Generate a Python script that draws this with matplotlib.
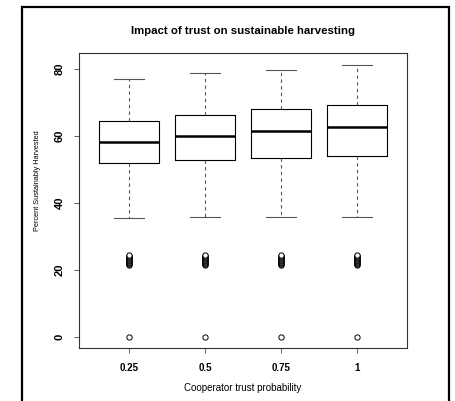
import matplotlib
matplotlib.use("Agg")
import matplotlib.pyplot as plt
from matplotlib.patches import Rectangle

# values
trust_labels = ["0.25", "0.5", "0.75", "1"]
whisker_low = [35.5, 35.8, 35.8, 35.8]
q1 = [52.0, 52.7, 53.3, 54.0]
medians = [58.2, 60.0, 61.4, 62.6]
q3 = [64.4, 66.2, 68.0, 69.3]
whisker_high = [77.1, 78.8, 79.6, 81.1]
outliers = [0.0, 21.5, 21.7, 21.9, 22.1, 22.3, 22.5, 22.7, 22.9, 23.1,
            23.3, 23.5, 23.7, 23.9, 24.1, 24.3, 24.5]
y_ticks = [0, 20, 40, 60, 80]

plt.rcParams["font.family"] = ["Liberation Sans", "DejaVu Sans"]

fig = plt.figure(figsize=(4.56, 4.01), dpi=100)
ax = fig.add_axes([79 / 456, 1 - 348 / 401, 328 / 456, 295 / 401])

stats = []
for i, lab in enumerate(trust_labels):
    stats.append({
        "label": lab,
        "whislo": whisker_low[i],
        "q1": q1[i],
        "med": medians[i],
        "q3": q3[i],
        "whishi": whisker_high[i],
        "fliers": outliers,
    })

positions = list(range(1, len(trust_labels) + 1))
ax.bxp(
    stats, positions=positions, widths=0.8, capwidths=0.4, patch_artist=False,
    boxprops=dict(color="black", linewidth=0.8),
    medianprops=dict(color="black", linewidth=1.8),
    whiskerprops=dict(color="#555555", linewidth=0.8, linestyle=(0, (3, 3))),
    capprops=dict(color="#555555", linewidth=0.8),
    flierprops=dict(marker="o", markersize=3.8, markerfacecolor="white",
                    markeredgecolor="black", markeredgewidth=0.7),
)

ax.set_xlim(0.34, 4.66)
ax.set_ylim(-3.3, 84.8)
ax.set_xticks(positions)
ax.set_xticklabels(trust_labels, fontsize=7, fontweight="bold")
ax.set_yticks(y_ticks)
ax.set_yticklabels([str(v) for v in y_ticks], fontsize=8, fontweight="bold",
                   rotation=90, va="center")
ax.tick_params(direction="out", length=3.5, width=0.6, color="#444444")
ax.tick_params(axis="y", pad=7)
ax.tick_params(axis="x", pad=7)
for sp in ax.spines.values():
    sp.set_linewidth(0.8)
    sp.set_color("#333333")

ax.set_title("Impact of trust on sustainable harvesting", fontsize=8.2,
             fontweight="bold", pad=13.5)
ax.set_xlabel("Cooperator trust probability", fontsize=7)
ax.set_ylabel("Percent Sustainably Harvested", fontsize=5.3)
ax.xaxis.set_label_coords(0.5, -0.136)
ax.yaxis.set_label_coords(-0.128, 0.566)
ax.xaxis.label.set_va("center")
ax.yaxis.label.set_va("center")

# outer black frame
fig.patches.append(Rectangle((22 / 456, -0.05), 427 / 456, 1.05 - 7 / 401,
                             transform=fig.transFigure, fill=False,
                             edgecolor="black", linewidth=1.6))

fig.savefig("out.png", dpi=100)
